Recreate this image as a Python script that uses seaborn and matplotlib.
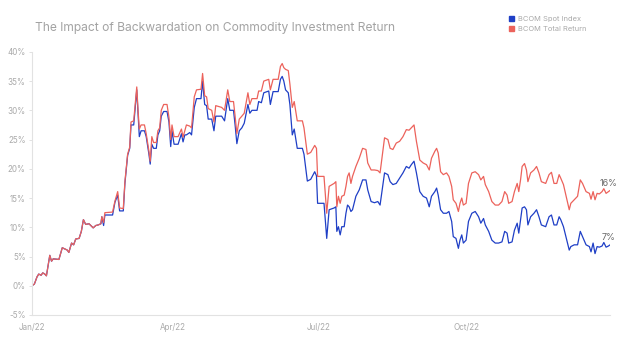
import numpy as np
import pandas as pd
import seaborn as sns
from matplotlib import pyplot as plt
from matplotlib.patches import Patch

# day of year (Jan 1 = 0), plus the two return series in %
day = [2, 3.5, 5.1, 6.2, 7.7, 8.7, 10, 11, 13.1, 14.2, 15.2, 18.8, 20.9, 22.5, 24, 25,
       26.7, 28, 29.3, 31.4, 32.8, 34.1, 35.5, 37.6, 38.7, 40.2, 41.8, 43.3, 45, 45.6,
       46.7, 47.5, 52.3, 53.8, 55.5, 56.7, 59, 60, 61.7, 63, 63.8, 65.5, 67.4, 68.2, 69,
       70.1, 72.2, 73.3, 75, 75.8, 76.8, 77.9, 79.6, 80.6, 81.7, 82.7, 84.2, 86.3, 87.5,
       88.6, 89.4, 90.7, 93.2, 95.3, 96.3, 97.4, 98.4, 100.5, 101.6, 103.3, 104.7, 107.5,
       108.5, 109.8, 111, 112, 114.2, 115.6, 116.7, 120.4, 122.2, 124.2, 125.5, 127.8,
       128.8, 129.9, 131.4, 133, 134.5, 136.8, 138, 139.3, 142.5, 143.5, 145.2, 146.7,
       149.8, 150.8, 152.5, 155.7, 157.1, 158.2, 159.2, 160.3, 162, 163, 164.5, 165.7,
       167.6, 170.8, 171.8, 173.9, 176, 178.5, 179.6, 180.3, 184.3, 186, 187.5, 190.6,
       191.7, 192.3, 193.3, 194.4, 195.4, 196.9, 198, 199, 200, 201.1, 202.1, 204.2,
       206.3, 208.4, 210.5, 211.6, 213.7, 215.8, 217.9, 219.3, 222.1, 224.2, 225.6,
       227.3, 229.4, 231.5, 233.6, 235.7, 237.4, 238.8, 240.5, 242, 244.1, 246.2, 248.3,
       250, 251.4, 253.5, 254.6, 255.6, 257.1, 258.8, 260.8, 262.3, 264, 265, 266.7,
       268.2, 269.2, 270.3, 271.3, 273, 274.5, 276.6, 278.7, 280.8, 282.2, 283.9, 285,
       287.1, 289.1, 291.2, 293.3, 295.4, 297.1, 298.6, 299.6, 301.7, 303.2, 304.9,
       305.9, 307, 308, 309.5, 310.7, 311.6, 313.3, 315.4, 317, 318.5, 320, 322.7, 324.8,
       326.3, 327.9, 329.6, 331.1, 332.1, 333.8, 335.3, 337.4, 338.4, 340.5, 342.6,
       344.3, 345.7, 347.9, 350, 351, 352.3, 353.5, 354.8, 356.2, 357.9, 359, 360.4,
       361.9, 362.9]

spot = [0, 0.3, 1.5, 2.0, 1.8, 2.2, 2.0, 1.7, 5.2, 4.2, 4.6, 4.5, 6.5, 6.3, 6.1, 5.7,
        7.3, 7.0, 8.0, 8.1, 9.3, 11.3, 10.5, 10.6, 10.3, 9.9, 10.3, 10.4, 10.6, 11.8,
        10.3, 12.1, 12.1, 14.3, 15.5, 12.8, 12.8, 17.5, 22.3, 23.5, 27.5, 27.5, 33.5, 29.5, 25.5,
        26.5, 26.5, 25.5, 22.5, 20.8, 24.2, 23.5, 23.5, 25.8, 26.5, 29, 29.8, 29.8, 28,
        23.8, 26.5, 24.2, 24.2, 26, 24.6, 25.8, 25.8, 26.2, 25.8, 30.5, 32, 32,
        35, 31, 30.8, 28.5, 28.5, 26.5, 29, 29, 28.2, 32, 30, 30,
        27.5, 24.3, 26.5, 27, 27.8, 31, 29.5, 30, 30, 31.5, 31.3, 33,
        33.3, 31, 33.2, 33.2, 35.3, 35.8, 35, 33.5, 33, 31, 25.8, 26.8,
        23.5, 23.5, 22.5, 17.9, 18.2, 19.5, 18.8, 14.1, 14.1, 8.1, 13, 13.3,
        13.5, 9.3, 10.1, 8.7, 10.1, 10.1, 12.4, 13.8, 13.5, 12.7, 13, 15.3,
        16.4, 18.1, 18.1, 16.4, 14.4, 14.2, 14.4, 13.8, 19.3, 19, 17.8,
        17.3, 17.5, 18.4, 19.3, 20.4, 20.1, 20.7, 21.3, 19.3, 16.1, 15.3, 15,
        13.5, 15.3, 16.1, 16.7, 15.5, 13, 12.4, 12.4, 12.7, 11, 8.4, 8.1,
        6.4, 7.8, 8.7, 7.3, 7.8, 11, 12.4, 12.7, 11.8, 10.7, 11.5, 10.4,
        9.3, 7.8, 7.3, 7.3, 7.5, 9.3, 9, 7.3, 7.5, 9.5, 10.7,
        9, 11.3, 13.3, 13.5, 13, 10.4, 11.8, 12.4, 13, 11.8, 10.4, 10.1, 11.8,
        12.1, 10.4, 10.4, 11.8, 11.3, 10.1, 8.4, 6.1, 6.7, 7, 7,
        9.3, 8.4, 7, 6.7, 5.8, 7.3, 5.5, 6.7, 6.6, 6.8, 7.4, 6.6,
        6.8, 7]

total = [0, 0.3, 1.5, 2.0, 1.8, 2.2, 2.0, 1.7, 5.2, 4.2, 4.6, 4.5, 6.5, 6.3, 6.1, 5.7,
         7.3, 7.0, 8.0, 8.1, 9.3, 11.3, 10.5, 10.6, 10.3, 9.9, 10.3, 10.4, 10.6, 11.8,
         10.8, 12.5, 12.6, 14.5, 16.1, 13.3, 13.2, 17.8, 22.5, 23.7, 28, 28.2, 34, 30, 26.8,
         27.5, 27.5, 26, 23, 21.3, 25.5, 24.5, 24.5, 26.5, 27, 30, 31, 31, 28.8,
         25, 27.5, 25.5, 25.5, 26.8, 25.4, 26.5, 27.5, 27.3, 27, 32.3, 33.5, 33.6,
         36.3, 32.5, 32.3, 30.3, 30, 28, 30.8, 30.5, 30, 33.5, 31.5, 31.5,
         29, 26, 28.5, 29, 29.5, 33, 31, 32, 32, 33.3, 33.3, 35,
         35.3, 33.5, 35.3, 35.3, 37.5, 38, 37.3, 37, 36.8, 34.5, 30.5, 31.5,
         28.2, 28.2, 27, 22.5, 22.8, 24, 23.5, 18.7, 18.7, 12.4, 17, 17.5,
         17.8, 13.5, 15.3, 14.1, 15.3, 15.5, 17, 18.7, 19.3, 17.5, 18.7, 20.4,
         21.8, 23.5, 23.3, 21, 19.8, 19.8, 19.7, 19.3, 25.3, 25, 23.5,
         23.3, 24.4, 24.7, 25.5, 26.7, 26.6, 27, 27.5, 24.7, 21.5, 21, 20.7,
         19.8, 21.8, 23, 23.5, 22.7, 19.5, 19, 19.3, 18.7, 17, 14.7, 14.1,
         12.7, 14.1, 15, 13.8, 14.1, 17.5, 19.3, 19.5, 19, 18.1, 18.7, 17.3,
         16.1, 14.4, 13.8, 13.8, 14.4, 16.1, 15.5, 14.1, 14.4, 16.1, 17.5,
         16.1, 18.1, 20.4, 20.9, 19.8, 17.8, 19.3, 19.8, 20.4, 19.3, 17.8, 17.5, 19,
         19.4, 17.5, 17.5, 19, 18.4, 17.3, 15.5, 13, 14.1, 14.7, 15.3,
         18.1, 17.5, 16.1, 15.8, 14.8, 16.1, 14.7, 15.8, 15.7, 16.1, 16.6, 15.8,
         16.1, 16.3]

series_names = ["BCOM Spot Index", "BCOM Total Return"]
series_colors = ["#1f3fc6", "#ec625b"]
tick_dates = ["2022-01-03", "2022-04-01", "2022-07-01", "2022-10-01"]
tick_labels = ["Jan/22", "Apr/22", "Jul/22", "Oct/22"]
y_ticks = [-5, 0, 5, 10, 15, 20, 25, 30, 35, 40]

dates = pd.Timestamp("2022-01-01") + pd.to_timedelta(day, unit="D")
df = pd.concat([
    pd.DataFrame({"date": dates, "ret": spot, "series": series_names[0]}),
    pd.DataFrame({"date": dates, "ret": total, "series": series_names[1]}),
])

sns.set_style("white")
plt.rcParams["font.family"] = ["Inter", "DejaVu Sans"]

fig = plt.figure(figsize=(6.35, 3.6), dpi=100)
ax = fig.add_axes([0.0504, 0.125, 0.9106, 0.731])

sns.lineplot(data=df, x="date", y="ret", hue="series", palette=series_colors,
             estimator=None, linewidth=0.9, legend=False, ax=ax)

ax.set_xlim(pd.Timestamp("2022-01-03"), pd.Timestamp("2022-12-30"))
ax.set_ylim(-5, 40)
ax.set_yticks(y_ticks)
ax.set_yticklabels([f"{t}%" for t in y_ticks])
ax.set_xticks(pd.to_datetime(tick_dates))
ax.set_xticklabels(tick_labels)
ax.set_xlabel("")
ax.set_ylabel("")

for s in ["top", "right"]:
    ax.spines[s].set_visible(False)
for s in ["left", "bottom"]:
    ax.spines[s].set_color("#e2e2e2")
    ax.spines[s].set_linewidth(0.8)

ax.tick_params(axis="y", length=2, width=0.6, color="#dddddd", labelsize=5.8,
               labelcolor="#aaaaaa", pad=2.5, left=True)
ax.tick_params(axis="x", length=0, labelsize=5.8, labelcolor="#aaaaaa", pad=6)

# end labels
for vals in [spot, total]:
    ax.annotate(f"{round(vals[-1])}%", (dates[-1], vals[-1]), xytext=(-1, 2),
                textcoords="offset points", ha="center", va="bottom",
                fontsize=6.5, color="#666666")

fig.text(0.055, 0.913, "The Impact of Backwardation on Commodity Investment Return",
         fontsize=8.7, color="#a3a3a3", va="baseline")

handles = [Patch(facecolor=c, edgecolor=c) for c in series_colors]
fig.legend(handles, series_names, loc="upper left", bbox_to_anchor=(0.793, 0.97),
           frameon=False, fontsize=5.4, labelcolor="#aaaaaa", handlelength=0.7,
           handleheight=0.7, handletextpad=0.5, labelspacing=0.45, borderpad=0.2)

fig.savefig("out.png", dpi=100)
